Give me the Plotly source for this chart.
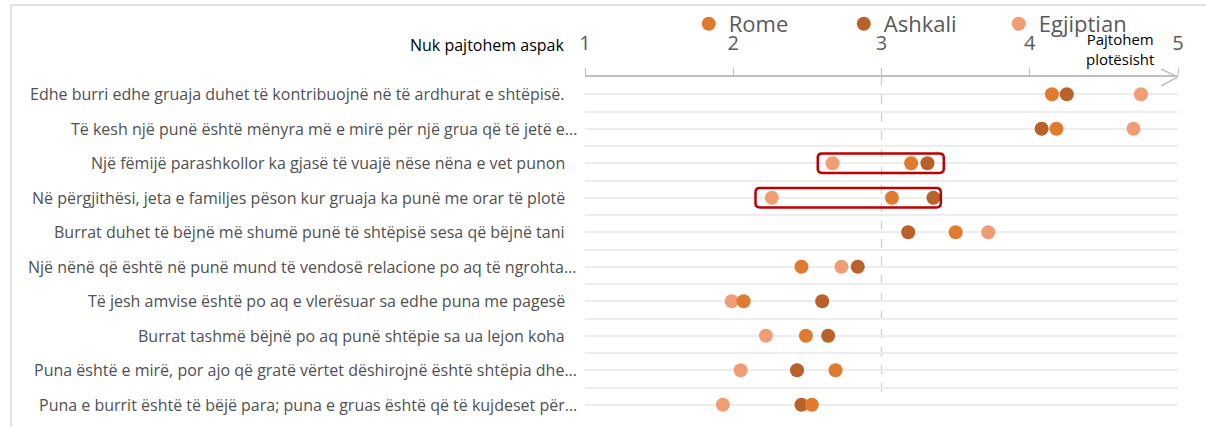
import plotly.graph_objects as go

# Survey statements (rows top to bottom) and mean agreement scores per group
statements = [
    "Edhe burri edhe gruaja duhet të kontribuojnë në të ardhurat e shtëpisë.",
    "Të kesh një punë është mënyra më e mirë për një grua që të jetë e...",
    "Një fëmijë parashkollor ka gjasë të vuajë nëse nëna e vet punon",
    "Në përgjithësi, jeta e familjes pëson kur gruaja ka punë me orar të plotë",
    "Burrat duhet të bëjnë më shumë punë të shtëpisë sesa që bëjnë tani",
    "Një nënë që është në punë mund të vendosë relacione po aq të ngrohta...",
    "Të jesh amvise është po aq e vlerësuar sa edhe puna me pagesë",
    "Burrat tashmë bëjnë po aq punë shtëpie sa ua lejon koha",
    "Puna është e mirë, por ajo që gratë vërtet dëshirojnë është shtëpia dhe...",
    "Puna e burrit është të bëjë para; puna e gruas është që të kujdeset për...",
]
rome = [4.15, 4.18, 3.20, 3.07, 3.50, 2.46, 2.07, 2.49, 2.69, 2.53]
ashkali = [4.25, 4.08, 3.31, 3.35, 3.18, 2.84, 2.60, 2.64, 2.43, 2.46]
egjiptian = [4.75, 4.70, 2.67, 2.26, 3.72, 2.73, 1.99, 2.22, 2.05, 1.93]

scale_ticks = [1, 2, 3, 4, 5]
scale_low = "Nuk pajtohem aspak"
scale_high = "Pajtohem<br>plotësisht"
midpoint = 3
# highlighted rows with the horizontal extent of their boxes
highlight_rows = [3, 4]
highlight_from = [2.57, 2.15]
highlight_to = [3.42, 3.40]

COLORS = {"Rome": "#E07A2E", "Ashkali": "#B8612A", "Egjiptian": "#F09C74"}
FONT = "Open Sans"

rows = list(range(1, len(statements) + 1))

fig = go.Figure()
# draw order: lighter group underneath, Rome on top; legend order kept separately
for name, vals, rank in [("Egjiptian", egjiptian, 3), ("Ashkali", ashkali, 2), ("Rome", rome, 1)]:
    fig.add_trace(go.Scatter(
        x=vals, y=rows, mode="markers", name=name, legendrank=rank,
        marker=dict(size=14, color=COLORS[name], line=dict(width=0)),
        hovertemplate="%{x:.2f}<extra>" + name + "</extra>",
    ))

shapes = []
# outer frame
shapes.append(dict(type="rect", xref="paper", yref="paper",
                   x0=-0.968, x1=1.2, y0=-0.3, y1=1.2087,
                   line=dict(color="#D9D9D9", width=1.5), layer="below"))
# dashed reference line at the scale midpoint
shapes.append(dict(type="line", xref="x", yref="y", x0=midpoint, x1=midpoint,
                   y0=0.5, y1=9.8, line=dict(color="#D0D0D0", width=1.3, dash="dash"),
                   layer="below"))
# arrowhead at the end of the scale axis
shapes.append(dict(type="path", xref="x", yref="paper", xsizemode="pixel", ysizemode="pixel",
                   xanchor=scale_ticks[-1], yanchor=1,
                   path="M -17,8 L 0,0 L -17,-9",
                   line=dict(color="#BFBFBF", width=1.5)))

# rounded boxes around highlighted statements
rx, ry = 0.03, 0.12
for r, x0, x1 in zip(highlight_rows, highlight_from, highlight_to):
    y0, y1 = r - 0.28, r + 0.28
    path = (f"M {x0+rx},{y0} L {x1-rx},{y0} Q {x1},{y0} {x1},{y0+ry} "
            f"L {x1},{y1-ry} Q {x1},{y1} {x1-rx},{y1} L {x0+rx},{y1} "
            f"Q {x0},{y1} {x0},{y1-ry} L {x0},{y0+ry} Q {x0},{y0} {x0+rx},{y0} Z")
    shapes.append(dict(type="path", xref="x", yref="y", path=path,
                       line=dict(color="#C00000", width=2.5), layer="above"))

annotations = []
for r, text in zip(rows, statements):
    annotations.append(dict(
        x=0, xref="paper", y=r, yref="y", text=text, showarrow=False,
        xanchor="right", yanchor="middle",
        xshift=-6 if text.endswith("...") else -18,
        font=dict(family=FONT, size=16, color="#505050"),
    ))
annotations.append(dict(x=0, xref="paper", y=1, yref="paper", text=scale_low,
                        showarrow=False, xanchor="right", yanchor="middle",
                        xshift=-19, yshift=32,
                        font=dict(family=FONT, size=16, color="#000000")))
annotations.append(dict(x=4.61, xref="x", y=1, yref="paper", text=scale_high,
                        showarrow=False, xanchor="center", yanchor="middle",
                        yshift=28,
                        font=dict(family=FONT, size=15, color="#000000")))

fig.update_layout(
    width=1206, height=427,
    margin=dict(l=585, r=28, t=77, b=5, autoexpand=False),
    paper_bgcolor="white", plot_bgcolor="white",
    font=dict(family=FONT, color="#595959"),
    shapes=shapes, annotations=annotations,
    legend=dict(orientation="h", x=0.175, xanchor="left",
                yref="container", y=0.944, yanchor="middle",
                font=dict(family=FONT, size=22, color="#595959"),
                itemsizing="trace", entrywidth=110, bgcolor="rgba(0,0,0,0)"),
    xaxis=dict(side="top", range=[1, 5], tickvals=scale_ticks,
               showline=True, linecolor="#BFBFBF", linewidth=1.5,
               ticks="outside", ticklen=7, tickcolor="#BFBFBF", tickwidth=1.2,
               ticklabelstandoff=10,
               tickfont=dict(family=FONT, size=20, color="#595959"),
               showgrid=False, zeroline=False, fixedrange=True),
    yaxis=dict(range=[10.5, 0.5], tick0=0.5, dtick=0.5, showticklabels=False,
               showgrid=True, gridcolor="#EDEDED", gridwidth=1.8,
               zeroline=False, showline=False, ticks="", fixedrange=True),
)

fig.write_html("out.html")
